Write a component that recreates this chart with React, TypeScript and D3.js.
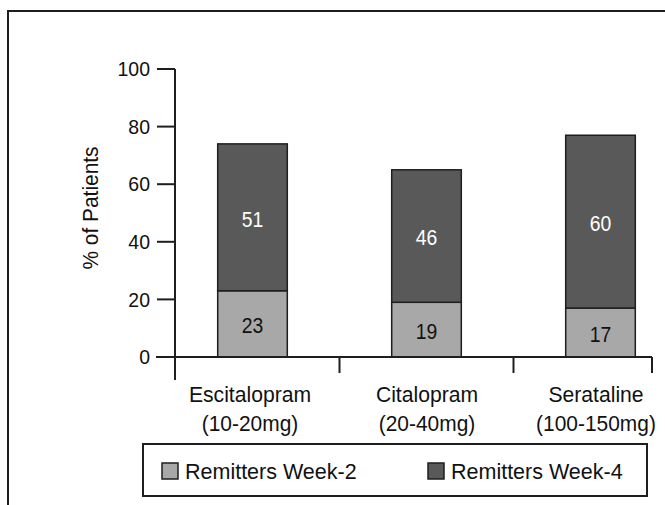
import React from "react";
import * as d3 from "d3";

const categories = ["Escitalopram", "Citalopram", "Serataline"];
const doses = ["(10-20mg)", "(20-40mg)", "(100-150mg)"];
const week2 = [23, 19, 17];
const week4 = [51, 46, 60];
const seriesNames = ["Remitters Week-2", "Remitters Week-4"];
const yTicks = [0, 20, 40, 60, 80, 100];

const W = 665;
const H = 505;
const FONT = "'Liberation Sans', Arial, Helvetica, sans-serif";
const LIGHT = "#a8a8a8";
const DARK = "#595959";
const STROKE = "#1e1e1e";
const labelShift = [-2.5, 0.5, -4.5];

function Txt(props: {
  x: number;
  y: number;
  size: number;
  sx?: number;
  rotate?: number;
  anchor?: string;
  fill?: string;
  central?: boolean;
  children: React.ReactNode;
}) {
  const { x, y, size, sx = 1, rotate = 0, anchor = "middle", fill = "#111", central = false } = props;
  return (
    <text
      transform={`translate(${x},${y}) rotate(${rotate}) scale(${sx},1)`}
      textAnchor={anchor}
      dominantBaseline={central ? "central" : undefined}
      fontSize={size}
      fill={fill}
    >
      {props.children}
    </text>
  );
}

export default function App() {
  const y = d3.scaleLinear().domain([0, 100]).range([357, 69]);
  const x = d3
    .scaleBand<string>()
    .domain(categories)
    .range([165.5, 687.5])
    .paddingInner(0.6)
    .paddingOuter(0.3);
  const step = x.step();
  const bw = x.bandwidth();
  const axisX = 175;
  const baseY = y(0);
  const dividers = categories.map((c) => (x(c) as number) + bw + (step - bw) / 2);
  dividers[2] = 652;

  const stacks = d3
    .stack<number>()
    .keys(["0", "1"])
    .value((i, k) => (k === "0" ? week2[i] : week4[i]))(categories.map((_, i) => i));
  const fills = [LIGHT, DARK];
  const labelColors = ["#111", "#fff"];

  return (
    <svg
      width={W}
      height={H}
      style={{ position: "absolute", left: 0, top: 0, background: "#fff" }}
      fontFamily={FONT}
    >
      <rect x={8} y={11} width={720} height={600} fill="none" stroke={STROKE} strokeWidth={2} />

      {/* bars */}
      {stacks.map((layer, li) =>
        layer.map((d, i) => {
          const x0 = x(categories[i]) as number;
          return (
            <g key={`${li}-${i}`}>
              <rect
                x={x0}
                y={y(d[1])}
                width={bw}
                height={y(d[0]) - y(d[1])}
                fill={fills[li]}
                stroke={STROKE}
                strokeWidth={1.5}
              />
              <Txt
                x={x0 + bw / 2}
                y={(y(d[0]) + y(d[1])) / 2 + 1.5}
                size={21.5}
                sx={0.9}
                fill={labelColors[li]}
                central
              >
                {d[1] - d[0]}
              </Txt>
            </g>
          );
        })
      )}

      {/* y axis */}
      <line x1={axisX} x2={axisX} y1={y(100)} y2={380} stroke={STROKE} strokeWidth={2} />
      {yTicks.map((t) => (
        <g key={t}>
          <line x1={157} x2={axisX} y1={y(t)} y2={y(t)} stroke={STROKE} strokeWidth={2} />
          <Txt x={150} y={y(t)} size={20.5} sx={0.95} anchor="end" central>
            {t}
          </Txt>
        </g>
      ))}
      <Txt x={91} y={208} size={22} sx={0.95} rotate={-90} central>
        % of Patients
      </Txt>

      {/* x axis */}
      <line x1={156} x2={dividers[2]} y1={baseY} y2={baseY} stroke={STROKE} strokeWidth={2} />
      {dividers.map((dx, i) => (
        <line key={i} x1={dx} x2={dx} y1={baseY} y2={373} stroke={STROKE} strokeWidth={2} />
      ))}
      {categories.map((c, i) => {
        const cx = (x(c) as number) + bw / 2 + labelShift[i];
        return (
          <g key={c}>
            <Txt x={cx} y={402} size={22.5} sx={0.94}>
              {c}
            </Txt>
            <Txt x={cx} y={431} size={22.5} sx={0.93}>
              {doses[i]}
            </Txt>
          </g>
        );
      })}

      {/* legend */}
      <rect x={143} y={444} width={504} height={52} fill="#fff" stroke={STROKE} strokeWidth={2} />
      {seriesNames.map((s, i) => {
        const sx = i === 0 ? 162 : 428;
        return (
          <g key={s}>
            <rect x={sx} y={463} width={16} height={16} fill={fills[i]} stroke={STROKE} strokeWidth={1.5} />
            <Txt x={sx + 23} y={478.5} size={21.5} anchor="start">
              {s}
            </Txt>
          </g>
        );
      })}
    </svg>
  );
}
